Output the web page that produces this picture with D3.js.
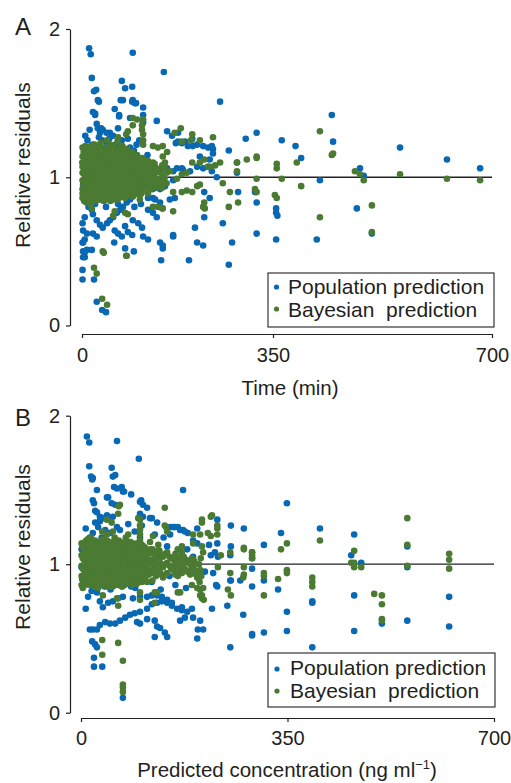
<!DOCTYPE html>
<html><head><meta charset="utf-8">
<script src="https://cdn.jsdelivr.net/npm/d3@7/dist/d3.min.js"></script>
<style>
html,body{margin:0;padding:0;background:#fff;}
text{font-family:"Liberation Sans",Arial,Helvetica,sans-serif;fill:#231f20;}
</style></head>
<body><svg id="chart" width="511" height="783"></svg>
<script>
// ---------- DATA ----------
const yTicks = [0, 1, 2];
const xTicks = [0, 350, 700];
const panelLetters = ["A", "B"];
const yTitle = "Relative residuals";
const xTitleA = "Time (min)";
const xTitleB = ["Predicted concentration (ng ml", "\u22121", ")"];
const legendLabels = ["Population prediction", "Bayesian  prediction"];

// Panel A: [time (min), relative residual] — population prediction
const popA = [
[13,1.87],[16,1.83],[93,1.84],[150,1.71],[18,1.67],[73,1.65],[22,1.58],[26,1.59],[79,1.60],[92,1.61],[31,1.51],[75,1.52],[93,1.52],[97,1.50],[60,1.46],[112,1.47],[24,1.43],[68,1.41],[88,1.40],[112,1.42],[253,1.51],[137,1.38],[27,1.36],[66,1.33],[35,1.33],[112,1.37],[156,1.31],[165,1.28],[176,1.24],[183,1.23],[194,1.21],[203,1.21],[222,1.21],[231,1.20],[240,1.16],[269,1.18],[300,1.26],[320,1.30],[216,1.14],[234,1.12],[284,1.10],[284,1.03],[247,1.00],[286,0.90],[224,0.90],[234,0.86],[167,0.98],[174,1.06],[183,1.06],
[364,1.25],[386,1.21],[395,1.13],[444,1.42],[446,1.24],[425,0.98],[489,1.06],[495,1.01],[553,1.20],[628,1.12],[681,1.06],[317,0.90],
[320,0.83],[355,0.79],[355,0.76],[357,0.74],[484,0.79],[320,0.62],[355,0.58],[420,0.58],[508,0.62],
[1,0.375],[1,0.31],[22,0.31],[27,0.16],[37,0.105],[44,0.09],[1,0.56],[2,0.50],[5,0.46],[9,0.51],[18,0.51],[59,0.56],[79,0.52],[95,0.50],[145,0.44],[196,0.44],[269,0.41],[167,0.60],[143,0.56],[148,0.52],[207,0.66],[211,0.56],[222,0.54],[224,0.73],[258,0.69],[275,0.56],
[29,1.52],[71,1.52],[92,1.51],[99,1.50],[20,1.44],[24,1.42],[68,1.42],[29,1.33],[33,1.30],[38,1.32],[51,1.30],[57,1.28],[176,1.30],[189,1.24],[172,1.23],[202,1.26],[211,1.22],[238,1.21],[240,1.19],[15,1.19],[20,1.22],[37,1.25],[46,1.23],[73,1.25],[88,1.20],[112,1.10],[125,1.07],[143,1.05],[156,1.06],
[9,0.90],[11,0.85],[18,0.78],[20,0.75],[27,0.71],[33,0.68],[9,0.62],[5,0.58],[2,0.56],[20,0.62],[27,0.60],[38,0.66],[46,0.69],[51,0.71],[57,0.73],[64,0.76],[70,0.78],[75,0.80],[82,0.83],[88,0.85],[93,0.87],[101,0.90],[106,0.92],[115,0.94],[121,0.96],[60,0.64],[66,0.62],[73,0.60],[79,0.67],[84,0.63],[92,0.61],[93,0.71],[103,0.69],[110,0.66],[121,0.78],[130,0.76],[137,0.73],[121,0.86],[134,0.85],[143,0.83],[112,0.60],[121,0.58],[148,0.54],[167,0.61],[161,0.85],[170,0.86],[143,0.92],[152,0.94],[20,0.93],[27,0.90],[38,0.87],[51,0.85],[57,0.87],[73,0.87],[5,0.73],[1,0.69],[2,0.64],[5,0.49],[2,0.46],
[167,1.04],[185,1.05],[198,1.04],[211,1.07],[222,1.06],[231,1.07],[238,1.04],
[5,1.05],[12,0.95],[25,1.12],[40,1.00],[55,1.15],[65,0.95],[85,1.10],[100,1.00],[120,1.15],[130,0.92],[10,1.25],[45,1.30],[70,1.20],[105,1.25],[60,0.90],[35,0.88],[15,1.10],[80,0.90],[95,1.18],[115,1.02],[1,1.10],[2,0.95],
[6,1.28],[14,1.32],[31,1.27],[50,1.26],[62,1.22],[84,1.26],[100,1.22],[12,0.80],[24,0.82],[44,0.80],[66,0.82],[96,0.80],[108,0.82],[130,0.86]
];
// Panel A — Bayesian prediction (scattered points)
const bayA = [
[93,1.40],[101,1.39],[112,1.39],[93,1.35],[110,1.35],[110,1.32],[112,1.29],[112,1.25],[112,1.22],[81,1.29],[84,1.31],[66,1.27],[46,1.25],[33,1.21],[170,1.30],[181,1.33],[202,1.29],[200,1.25],[216,1.25],[240,1.27],[130,1.21],[139,1.20],[148,1.21],[156,1.17],[148,1.14],[152,1.10],[183,1.24],[202,1.10],[216,1.10],[224,1.12],[231,1.07],[234,1.07],[244,1.08],[253,1.10],[258,0.96],[271,0.90],[284,1.10],[284,1.04],[302,1.12],[320,1.14],[192,1.03],[183,1.02],[161,1.04],[211,0.94],[216,0.95],[202,0.90],[167,0.90],[183,0.90],[1,1.14],[1,1.10],[1,1.03],[1,0.89],[174,0.99],[192,0.91],
[425,1.31],[444,1.15],[446,1.16],[388,1.10],[356,1.09],[356,1.06],[320,1.13],[553,1.02],[320,0.99],[364,0.99],[395,0.94],[317,0.92],[320,0.90],[353,0.88],[356,0.86],[481,1.04],[489,1.02],[495,0.98],[628,0.99],[681,0.98],[508,0.81],[508,0.63],[425,0.73],
[22,0.39],[27,0.35],[40,0.49],[37,0.18],[46,0.14],[81,0.47],[167,0.77],[224,0.83],[225,0.79],[269,0.80],[286,0.83],[60,0.77],[79,0.76],[84,0.75],[130,0.80],[147,0.79],[18,0.79],[57,0.74],[106,0.85],[139,0.80],[148,0.79],[222,0.80],[38,0.50],[82,0.47]
];
// Panel A — Bayesian prediction, dense core: [time, [residuals...]]
const bayA_core = [
[1,[1.20,1.07,0.98,0.92,0.86]],[4,[1.15,1.02,0.95,0.84]],[8,[1.18,1.11,1.04,0.97,0.90,0.83]],[12,[1.14,1.07,1.00,0.93,0.87]],
[16,[1.21,1.10,1.03,0.96,0.89,0.82]],[20,[1.16,1.06,0.99,0.92,0.85]],[25,[1.19,1.12,1.04,0.97,0.90,0.84]],[29,[1.14,1.08,1.01,0.94,0.87]],
[34,[1.23,1.16,1.05,0.98,0.91,0.85]],[38,[1.11,1.02,0.95,0.88]],[43,[1.20,1.13,1.06,0.99,0.92,0.86]],[47,[1.17,1.09,1.03,0.96,0.89]],
[52,[1.22,1.12,1.05,0.98,0.91,0.84]],[56,[1.15,1.07,1.00,0.93,0.87]],[61,[1.19,1.10,1.03,0.96,0.89]],[65,[1.24,1.14,1.06,0.99,0.92,0.85]],
[70,[1.17,1.09,1.02,0.95,0.88]],[74,[1.21,1.12,1.04,0.97,0.90]],[79,[1.15,1.07,1.00,0.93,0.86]],[83,[1.19,1.10,1.03,0.96,0.89]],
[88,[1.13,1.05,0.98,0.91]],[92,[1.17,1.08,1.01,0.94,0.87]],[97,[1.12,1.04,0.97,0.90]],[101,[1.15,1.07,1.00,0.93]],
[106,[1.10,1.02,0.95,0.88]],[111,[1.13,1.05,0.98,0.91]],[116,[1.08,1.01,0.94]],[121,[1.11,1.03,0.96,0.89]],
[127,[1.06,0.99,0.92]],[133,[1.09,1.02,0.95]],[140,[1.05,0.98]],[147,[1.08,1.00,0.93]],[155,[1.03,0.96]]
];
const bayA_core2 = [
[3,[1.17,1.10,1.03,0.95,0.89]],[6,[1.21,1.12,1.05,0.98,0.91,0.86]],[10,[1.15,1.08,1.01,0.94,0.88]],[14,[1.18,1.11,1.04,0.98,0.91,0.84]],
[18,[1.13,1.07,1.00,0.94,0.87]],[23,[1.22,1.15,1.08,1.01,0.94,0.88]],[27,[1.17,1.10,1.03,0.96,0.90]],[31,[1.20,1.12,1.05,0.98,0.92,0.85]],
[36,[1.14,1.08,1.01,0.94,0.87]],[40,[1.18,1.10,1.04,0.97,0.91,0.84]],[45,[1.15,1.09,1.02,0.95,0.89]],[50,[1.19,1.13,1.06,1.00,0.93,0.87]],
[54,[1.16,1.09,1.02,0.95,0.89]],[58,[1.21,1.13,1.05,0.98,0.91,0.85]],[63,[1.15,1.08,1.01,0.94,0.88]],[68,[1.19,1.12,1.05,0.98,0.91,0.86]],
[72,[1.15,1.07,1.00,0.93,0.87]],[77,[1.19,1.11,1.04,0.97,0.90]],[81,[1.14,1.06,0.99,0.92,0.88]],[86,[1.16,1.09,1.02,0.95,0.89]],
[90,[1.12,1.05,0.98,0.91]],[95,[1.15,1.08,1.01,0.94,0.88]],[99,[1.11,1.04,0.97,0.91]],[104,[1.13,1.06,0.99,0.92]],
[109,[1.09,1.02,0.95,0.89]],[113,[1.11,1.04,0.97]],[119,[1.07,1.00,0.93]],[124,[1.09,1.02,0.95]],
[130,[1.10,1.03,0.96]],[136,[1.06,0.99,0.93]],[144,[1.03,0.96]],[151,[1.06,0.99]]
];

// Panel B: [predicted concentration (ng/ml), relative residual] — population prediction
const popB = [
[10,1.86],[14,1.82],[61,1.83],[98,1.71],[14,1.66],[52,1.65],[58,1.60],[54,1.59],[17,1.59],[20,1.58],[19,1.57],[56,1.52],[61,1.51],[69,1.52],[73,1.49],[27,1.50],[85,1.47],[173,1.50],[44,1.45],[20,1.43],[22,1.41],[52,1.41],[58,1.40],[102,1.43],[105,1.40],[112,1.38],[24,1.36],[32,1.32],[37,1.31],[32,1.29],[46,1.31],[120,1.31],[129,1.28],[156,1.25],[164,1.25],[173,1.23],[181,1.21],[197,1.24],[231,1.30],[254,1.26],[276,1.24],[217,1.13],[231,1.14],[220,1.06],[232,1.05],[254,1.12],[253,1.06],[290,1.08],[290,1.04],[224,0.94],[254,0.89],[231,0.85],[290,0.85],[151,1.20],[91,1.22],[100,1.18],[24,1.28],[29,1.25],
[349,1.41],[339,1.21],[310,1.13],[405,1.24],[463,1.20],[458,1.06],[475,1.01],[553,1.12],[553,0.98],[290,0.97],[310,0.89],[334,0.83],
[349,0.68],[392,0.75],[392,0.74],[290,0.52],[310,0.54],[349,0.55],[392,0.44],[463,0.79],[463,0.55],[510,0.60],[553,0.62],[624,0.78],[624,0.58],
[15,0.56],[20,0.56],[19,0.48],[24,0.46],[22,0.37],[22,0.31],[36,0.31],[27,0.44],[71,0.10],
[27,0.56],[32,0.59],[41,0.61],[49,0.60],[58,0.60],[66,0.62],[75,0.64],[83,0.66],[91,0.67],[100,0.68],[112,0.70],[120,0.73],[129,0.74],[137,0.75],[146,0.74],[154,0.72],[163,0.70],[171,0.69],[180,0.68],[188,0.70],
[95,0.61],[100,0.60],[112,0.63],[125,0.62],[129,0.58],[134,0.57],[142,0.54],[125,0.51],[146,0.51],[168,0.62],[176,0.64],[190,0.64],[202,0.62],[198,0.56],[207,0.56],[197,0.50],
[27,0.81],[32,0.75],[37,0.71],[46,0.74],[54,0.75],[63,0.77],[71,0.78],[88,0.77],[100,0.78],[112,0.78],[120,0.79],[129,0.79],[137,0.78],[146,0.76],[154,0.74],[171,0.71],[222,0.70],[229,0.86],[253,0.89],[275,0.66],[290,0.53],[253,0.44],[248,0.72],[270,0.89],
[19,0.95],[27,0.91],[10,0.87],[12,0.78],[8,0.70],
[71,1.49],[46,1.45],[100,1.42],[27,1.35],[44,1.33],[54,1.32],[117,1.31],[151,1.25],[159,1.25],[168,1.23],[176,1.22],[20,1.21],[15,1.18],[41,1.23],[49,1.21],[61,1.25],[66,1.23],[100,1.34],[105,1.32],[103,1.26],[146,1.12],[190,1.16],[197,1.14],[227,1.08],
[5,1.05],[12,0.92],[30,1.12],[45,0.95],[60,1.08],[75,0.90],[90,1.10],[110,0.95],[130,1.05],[150,0.92],[170,1.00],[190,1.05],[210,0.95],[8,1.15],[40,0.85],[85,0.85],[120,0.88],[160,0.86],[200,0.90],[180,1.10],[1,0.98],[2,0.90],[1,1.10],
[8,1.24],[35,1.18],[80,1.27],[125,1.20],[140,1.18],[18,0.82],[50,0.83],[92,0.84],[135,0.83],[178,0.84]
];
// Panel B — Bayesian prediction (scattered points)
const bayB = [
[66,1.40],[63,1.34],[100,1.30],[100,1.26],[100,1.23],[100,1.20],[100,1.16],[103,1.13],[142,1.38],[144,1.25],[146,1.22],[131,1.13],[117,1.15],[164,1.10],[205,1.30],[205,1.28],[222,1.33],[215,1.21],[202,1.20],[231,1.20],[205,1.12],[207,1.08],[54,1.22],[44,1.20],[36,1.22],[12,1.17],[10,1.10],[171,1.06],[176,0.96],[197,0.91],[202,0.83],[205,0.79],[164,0.81],[129,0.81],[100,0.76],[63,0.72],[37,0.79],[36,0.49],[63,0.47],[70,0.85],[54,0.85],
[61,0.77],[100,0.81],[125,0.81],[125,0.74],[168,0.81],[188,0.86],[202,0.79],[205,0.77],[208,0.76],[197,0.84],[207,0.84],[249,0.83],[254,0.79],[275,0.91],[36,0.39],[71,0.35],[71,0.19],[71,0.17],[71,0.14],
[553,1.31],[553,1.13],[553,0.99],[624,1.07],[624,1.03],[624,0.97],[463,1.09],[458,1.01],[463,1.01],[463,0.98],[475,0.98],[405,1.16],[349,1.14],[339,1.10],[349,0.96],[349,0.94],[310,0.94],[310,0.92],[334,0.90],[392,0.91],[392,0.88],[392,0.85],[290,1.08],[290,1.06],[290,1.04],
[310,0.79],[497,0.80],[510,0.79],[510,0.73],[510,0.63],[510,0.62],
[220,1.32],[231,1.26],[231,1.24],[190,1.20],[220,1.19],[142,1.26],[122,1.19],[97,1.31],[171,1.12],[171,1.08],[190,1.14],[237,1.06],[253,1.08],[276,1.11],[276,1.10],[232,0.98],[253,0.94],[276,0.98],[276,0.93],[64,1.39],[44,1.30],[52,1.28],[17,1.14],[80,1.20],[76,1.18],
[200,1.00],[202,0.96],[204,0.92],[203,1.04],[201,0.88]
];
// Panel B — Bayesian prediction, dense core: [concentration, [residuals...]]
const bayB_core = [
[1,[1.14,1.06,0.99,0.92,0.86]],[5,[1.10,1.03,0.96,0.89]],[9,[1.16,1.08,1.01,0.94,0.87]],[13,[1.12,1.04,0.97,0.90]],
[17,[1.18,1.09,1.02,0.95,0.88]],[22,[1.13,1.06,0.99,0.92,0.85]],[27,[1.15,1.08,1.01,0.94,0.87]],[32,[1.11,1.04,0.97,0.90]],
[37,[1.17,1.09,1.02,0.95,0.88]],[42,[1.13,1.06,0.99,0.92,0.85]],[47,[1.15,1.08,1.01,0.94,0.87]],[52,[1.11,1.04,0.97,0.90]],
[57,[1.18,1.09,1.02,0.95,0.88]],[62,[1.13,1.06,0.99,0.92,0.86]],[67,[1.15,1.08,1.01,0.94,0.88]],[72,[1.11,1.04,0.97,0.90]],
[77,[1.16,1.07,1.00,0.93,0.87]],[82,[1.12,1.05,0.98,0.91]],[87,[1.14,1.07,1.00,0.93,0.86]],[92,[1.10,1.03,0.96,0.89]],
[97,[1.12,1.05,0.98,0.91]],[103,[1.08,1.01,0.94,0.88]],[109,[1.11,1.04,0.97,0.90]],[115,[1.07,1.00,0.93]],
[121,[1.10,1.03,0.96,0.89]],[127,[1.06,0.99,0.92]],[133,[1.09,1.02,0.95]],[139,[1.05,0.98,0.91]],
[146,[1.08,1.01,0.94]],[153,[1.04,0.97]],[160,[1.07,1.00,0.93]],[167,[1.03,0.96]],[174,[1.05,0.98]],
[181,[1.02,0.95]],[188,[1.04,0.97]],[195,[1.00,0.93]]
];
const bayB_core2 = [
[3,[1.12,1.04,0.97,0.90,0.84]],[7,[1.15,1.07,1.00,0.93,0.86]],[11,[1.12,1.05,0.98,0.91]],[15,[1.15,1.07,1.00,0.93,0.86]],
[19,[1.12,1.05,0.98,0.91]],[24,[1.16,1.09,1.02,0.95,0.88]],[29,[1.12,1.05,0.98,0.91,0.84]],[34,[1.15,1.07,1.00,0.93,0.86]],
[39,[1.12,1.05,0.98,0.91]],[44,[1.16,1.09,1.02,0.95,0.88]],[49,[1.12,1.05,0.98,0.91,0.85]],[54,[1.15,1.07,1.00,0.93,0.86]],
[59,[1.12,1.05,0.98,0.91]],[64,[1.16,1.09,1.02,0.95,0.88]],[69,[1.12,1.05,0.98,0.91,0.85]],[74,[1.14,1.07,1.00,0.93,0.86]],
[79,[1.10,1.03,0.96,0.89]],[84,[1.15,1.08,1.01,0.94,0.88]],[89,[1.11,1.04,0.97,0.90]],[95,[1.14,1.07,1.00,0.93,0.87]],
[100,[1.10,1.03,0.96,0.89]],[106,[1.12,1.05,0.98,0.92]],[112,[1.08,1.01,0.95,0.88]],[118,[1.10,1.03,0.96]],
[124,[1.07,1.00,0.94]],[130,[1.09,1.02,0.96]],[136,[1.06,1.00,0.93]],[143,[1.07,1.00,0.93]],
[150,[1.05,0.99]],[157,[1.03,0.96]],[164,[1.05,0.99,0.92]],[171,[1.01,0.94]],[178,[1.03,0.96]],[185,[1.00,0.93]],[192,[1.02,0.96]]
];

// ---------- DRAW ----------
const svg = d3.select("#chart");
const BLUE = "#0868b4", GREEN = "#4b7a32", INK = "#231f20";
const FONT = '"Liberation Sans",Arial,Helvetica,sans-serif';
const R = 3.3;

const unpack = core => core.flatMap(([x, rs]) => rs.map(r => [x, r]));

const panels = [
  { letter: panelLetters[0], pop: popA, bay: bayA.concat(unpack(bayA_core), unpack(bayA_core2)),
    x: d3.scaleLinear().domain([0, 350, 700]).range([82, 273, 492]),
    y: d3.scaleLinear().domain([0, 2]).range([325.5, 29]),
    yAxisX: 70, xAxisY: 334, letterY: 35, yTitleY: 165, xTitleY: 395, xTitleX: 290,
    legend: { x: 268, y: 273, w: 226, h: 54, dotX: 276.5, textX: 288, rows: [287, 309], base: [294, 316.5] } },
  { letter: panelLetters[1], pop: popB, bay: bayB.concat(unpack(bayB_core), unpack(bayB_core2)),
    x: d3.scaleLinear().domain([0, 700]).range([81, 494]),
    y: d3.scaleLinear().domain([0, 2]).range([712.7, 415.7]),
    yAxisX: 70, xAxisY: 718, letterY: 426, yTitleY: 547, xTitleY: 777, xTitleX: 287,
    legend: { x: 268, y: 653, w: 227, h: 54, dotX: 277, textX: 290, rows: [669, 691], base: [675, 698] } }
];

panels.forEach((p, i) => {
  const g = svg.append("g");

  g.append("line")
    .attr("x1", p.x(0)).attr("x2", p.x(700))
    .attr("y1", p.y(1)).attr("y2", p.y(1))
    .attr("stroke", "#222").attr("stroke-width", 1.3);

  g.append("g").selectAll("circle").data(p.pop).join("circle")
    .attr("cx", d => p.x(d[0])).attr("cy", d => p.y(d[1])).attr("r", R)
    .attr("fill", BLUE);
  g.append("g").selectAll("circle").data(p.bay).join("circle")
    .attr("cx", d => p.x(d[0])).attr("cy", d => p.y(d[1])).attr("r", R)
    .attr("fill", GREEN);

  const ya = g.append("g").attr("transform", `translate(${p.yAxisX},0)`)
    .call(d3.axisLeft(p.y).tickValues(yTicks).tickFormat(d3.format("d")).tickSize(4).tickSizeOuter(0).tickPadding(6));
  const xa = g.append("g").attr("transform", `translate(0,${p.xAxisY})`)
    .call(d3.axisBottom(p.x).tickValues(xTicks).tickFormat(d3.format("d")).tickSize(4).tickSizeOuter(0).tickPadding(i === 0 ? 10 : 9));
  [ya, xa].forEach(a => {
    a.selectAll("path,line").attr("stroke", INK).attr("stroke-width", 1.2);
    a.selectAll("text").attr("font-size", 20).attr("font-family", FONT).attr("fill", INK);
  });

  g.append("text").attr("x", 15).attr("y", p.letterY).attr("font-size", 24).text(p.letter);

  g.append("text")
    .attr("transform", `translate(30,${p.yTitleY}) rotate(-90)`)
    .attr("text-anchor", "middle").attr("font-size", 21).text(yTitle);

  const xt = g.append("text").attr("x", p.xTitleX).attr("y", p.xTitleY)
    .attr("text-anchor", "middle").attr("font-size", 20.5);
  if (i === 0) xt.text(xTitleA);
  else {
    xt.append("tspan").text(xTitleB[0]);
    xt.append("tspan").attr("font-size", 13).attr("dy", -8).text(xTitleB[1]);
    xt.append("tspan").attr("dy", 8).text(xTitleB[2]);
  }

  const L = p.legend;
  const lg = g.append("g");
  lg.append("rect").attr("x", L.x).attr("y", L.y).attr("width", L.w).attr("height", L.h)
    .attr("fill", "#fff").attr("stroke", INK).attr("stroke-width", 1.1);
  [BLUE, GREEN].forEach((c, k) => {
    lg.append("circle").attr("cx", L.dotX).attr("cy", L.rows[k]).attr("r", 2.6).attr("fill", c);
    lg.append("text").attr("x", L.textX).attr("y", L.base[k]).attr("font-size", 21)
      .style("white-space", "pre").text(legendLabels[k]);
  });
});
</script></body></html>
